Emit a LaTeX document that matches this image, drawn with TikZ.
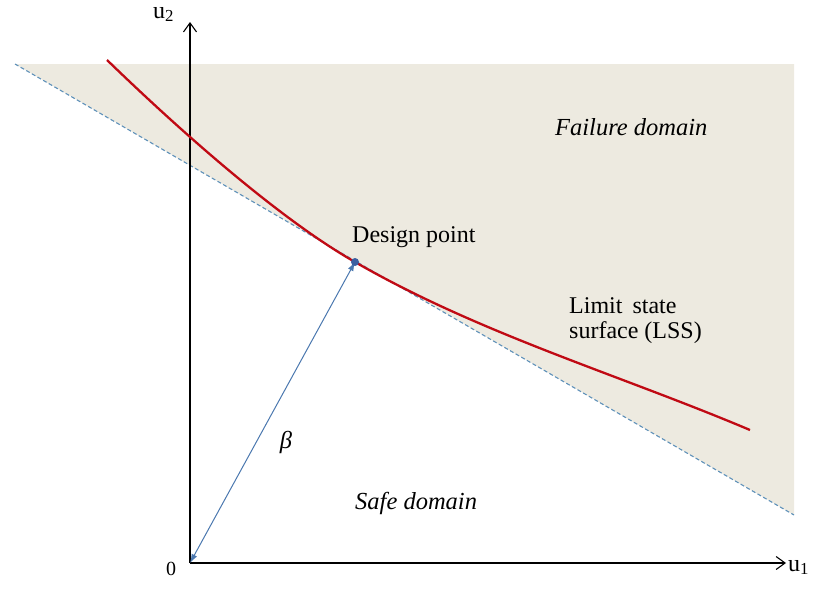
\documentclass[tikz,border=0pt]{standalone}
\usepackage{fontspec}
\setmainfont{Liberation Serif}
\usetikzlibrary{arrows.meta}
\definecolor{beige}{RGB}{237,234,224}
\definecolor{lssred}{RGB}{192,10,20}
\definecolor{dashblue}{RGB}{95,145,185}
\definecolor{arrblue}{RGB}{75,120,175}
\definecolor{dotblue}{RGB}{60,95,160}
\tikzset{
  axis/.style={line width=1.1pt, draw=black, -{Straight Barb[length=9pt,width=13pt]}},
  lbl/.style={font=\fontsize{24}{27}\selectfont, inner sep=0pt, anchor=base west},
  ilbl/.style={font=\fontsize{24.5}{27}\selectfont\itshape, inner sep=0pt, anchor=base west},
}
\begin{document}
\begin{tikzpicture}[x=1pt,y=-1pt]
\useasboundingbox (0,0) rectangle (818,589);
% shaded failure domain
\fill[beige] (15,64) -- (794,64) -- (794,515) -- cycle;
% dashed tangent
\coordinate (T1) at (15,64);
\coordinate (T2) at (794,515);
\draw[dashblue, dash pattern=on 4pt off 2.5pt, line width=1.1pt] (T1) -- (T2);
% axes
\coordinate (O) at (190,563);
\coordinate (Y) at (190,22);
\coordinate (X) at (786,563);
\draw[axis] (O) -- (Y);
\draw[axis] (O) -- (X);
% limit state curve
\coordinate (C0) at (107,60);
\coordinate (DP) at (355,262);
\coordinate (C1) at (750,430);
\draw[lssred, line width=2.3pt] (C0) .. controls (200,150) and (290,225) .. (DP)
  .. controls (480,334) and (620,375) .. (C1);
% beta arrow
\draw[arrblue, line width=1pt, {Latex[length=9pt,width=6pt]}-{Latex[length=9pt,width=6pt]}] (O) -- (DP);
\fill[dotblue] (DP) circle (4pt);
% labels
\node[lbl] (u2) at (153,18) {u\textsubscript{2}};
\node[lbl] (u1) at (788,571) {u\textsubscript{1}};
\node[lbl, font=\fontsize{20}{24}\selectfont] (zero) at (166,575) {0};
\node[ilbl] (fail) at (555,135) {Failure domain};
\node[lbl] (dpl) at (352,242) {Design point};
\node[lbl] (lss1) at (569,313) {Limit\,\ state};
\node[lbl] (lss2) at (569,338) {surface (LSS)};
\node[ilbl, anchor=center] (beta) at (286,442) {β};
\node[ilbl] (safe) at (355,509) {Safe domain};
\end{tikzpicture}
\end{document}
